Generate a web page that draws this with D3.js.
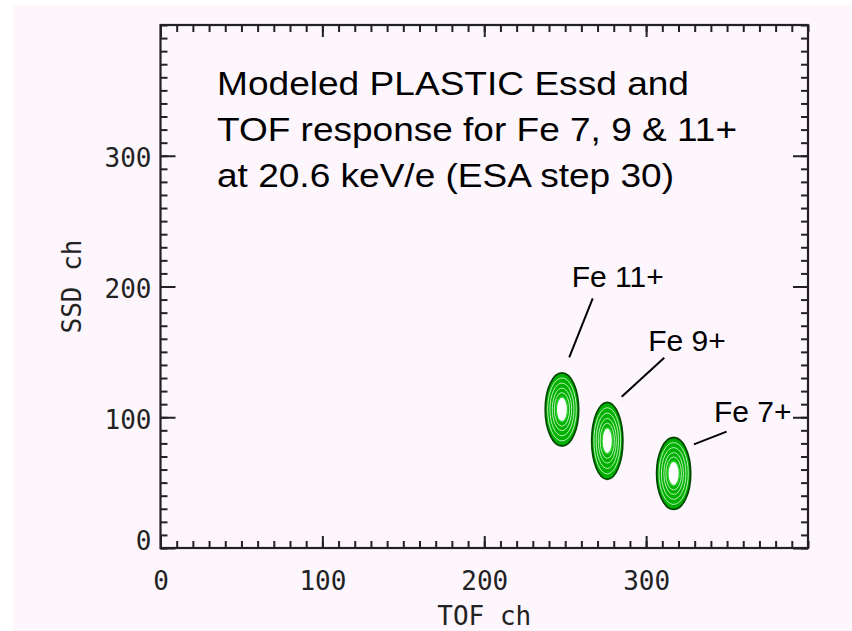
<!DOCTYPE html>
<html>
<head>
<meta charset="utf-8">
<script src="https://cdn.jsdelivr.net/npm/d3@7"></script>
<style>
  body { margin: 0; background: #fff; }
  .tick text { font-family: "DejaVu Sans Mono", monospace; font-size: 26px; fill: #222; }
</style>
</head>
<body>
<script>
// species shown in the plot
var species = ["Fe 11+", "Fe 9+", "Fe 7+"];
// peak centres (TOF ch, SSD ch) and half extents of the outer contour
var tofCenter = [248, 276, 317],
    ssdCenter = [106, 82, 57],
    tofHalf = [10.3, 9.6, 10.5],
    ssdHalf = [28, 29.4, 27.5];
// contour levels as fraction of outer contour size
var levels = [1, 0.86, 0.72, 0.58, 0.46, 0.34];
// label anchor and leader line ends (data units)
var labelTof = [254, 301.3, 341.9],
    labelSsd = [199.4, 150.9, 96.6],
    lineFrom = [[267, 191], [311.2, 145.5], [349.7, 89]],
    lineTo = [[252.5, 145.8], [284.9, 115.7], [329.5, 79.3]];
// axis ticks
var majorTicks = [0, 100, 200, 300],
    minorTicks = d3.range(0, 401, 10);
var titleLines = ["Modeled PLASTIC Essd and", "TOF response for Fe 7, 9 & 11+", "at 20.6 keV/e (ESA step 30)"];

var width = 852, height = 631;
var plotLeft = 160.5, plotRight = 808, plotTop = 25, plotBottom = 548;

var svg = d3.select("body").append("svg")
    .attr("width", width)
    .attr("height", height);

//pink page background
svg.append("rect")
    .attr("x", 13).attr("y", 5)
    .attr("width", width - 13).attr("height", height - 5)
    .attr("fill", "#fdf6fd");

var x = d3.scaleLinear().domain([0, 400]).range([plotLeft, plotRight]);
var y = d3.scaleLinear().domain([0, 400]).range([plotBottom, plotTop]);

//minor and major ticks, all four sides, pointing inward
function minor(axis, size){
    return axis.tickValues(minorTicks).tickSize(size).tickFormat("");
}
function major(axis, size){
    return axis.tickValues(majorTicks).tickSize(size);
}
var gx = svg.append("g").attr("transform", "translate(0," + plotBottom + ")");
gx.append("g").call(minor(d3.axisBottom(x), -7));
gx.append("g").attr("class", "lab").call(major(d3.axisBottom(x), -12));
var gxt = svg.append("g").attr("transform", "translate(0," + plotTop + ")");
gxt.append("g").call(minor(d3.axisTop(x), -7));
gxt.append("g").call(major(d3.axisTop(x), -12).tickFormat(""));

var gy = svg.append("g").attr("transform", "translate(" + plotLeft + ",0)");
gy.append("g").call(minor(d3.axisLeft(y), -7));
gy.append("g").attr("class", "lab").call(major(d3.axisLeft(y), -15));
var gyr = svg.append("g").attr("transform", "translate(" + plotRight + ",0)");
gyr.append("g").call(minor(d3.axisRight(y), -7));
gyr.append("g").call(major(d3.axisRight(y), -15).tickFormat(""));

svg.selectAll(".domain").remove();
svg.selectAll(".tick line").attr("stroke", "#222").attr("stroke-width", 2);
gx.selectAll(".lab .tick text").attr("y", 42).attr("dy", 0);
gy.selectAll(".lab .tick text")
    .attr("x", -9)
    .attr("dy", function(d){ return d === 0 ? "0.05em" : "0.42em"; });

//frame
svg.append("rect")
    .attr("x", plotLeft).attr("y", plotTop)
    .attr("width", plotRight - plotLeft).attr("height", plotBottom - plotTop)
    .attr("fill", "none")
    .attr("stroke", "#222")
    .attr("stroke-width", 2.2);

//axis titles
svg.append("text")
    .attr("x", (plotLeft + plotRight) / 2).attr("y", 625)
    .attr("text-anchor", "middle")
    .style("font-family", "DejaVu Sans Mono, monospace")
    .style("font-size", "26px").attr("fill", "#222")
    .text("TOF ch");
svg.append("text")
    .attr("transform", "translate(81," + (plotTop + plotBottom) / 2 + ") rotate(-90)")
    .attr("text-anchor", "middle")
    .style("font-family", "DejaVu Sans Mono, monospace")
    .style("font-size", "26px").attr("fill", "#222")
    .text("SSD ch");

//contour ellipses for each peak
var peaks = svg.selectAll(".peak")
    .data(species)
    .enter()
    .append("g")
    .attr("class", "peak");

var last = levels.length - 1;
peaks.selectAll("ellipse")
    .data(function(d, i){
        return levels.map(function(l, j){ return {i: i, l: l, j: j}; });
    })
    .enter()
    .append("ellipse")
    .attr("cx", function(d){ return x(tofCenter[d.i]); })
    .attr("cy", function(d){ return y(ssdCenter[d.i]); })
    .attr("rx", function(d){ return x(tofHalf[d.i] * d.l) - x(0); })
    .attr("ry", function(d){ return y(0) - y(ssdHalf[d.i] * d.l); })
    .attr("fill", function(d){
        if (d.j === 0) return "#00b000";
        if (d.j === last) return "#fff";
        return "none";
    })
    .attr("stroke", function(d){
        if (d.j === 0) return "#004a00";
        if (d.j === last) return "#30d030";
        return "#c8f5c8";
    })
    .attr("stroke-width", function(d){
        if (d.j === 0) return 1.8;
        return d.j === last ? 1.5 : 0.9;
    });

//labels and leader lines
svg.selectAll(".leader")
    .data(species)
    .enter()
    .append("line")
    .attr("class", "leader")
    .attr("x1", function(d, i){ return x(lineFrom[i][0]); })
    .attr("y1", function(d, i){ return y(lineFrom[i][1]); })
    .attr("x2", function(d, i){ return x(lineTo[i][0]); })
    .attr("y2", function(d, i){ return y(lineTo[i][1]); })
    .attr("stroke", "#000")
    .attr("stroke-width", 2);

svg.selectAll(".flabel")
    .data(species)
    .enter()
    .append("text")
    .attr("class", "flabel")
    .attr("x", function(d, i){ return x(labelTof[i]); })
    .attr("y", function(d, i){ return y(labelSsd[i]); })
    .style("font-family", "Liberation Sans, Arial, sans-serif")
    .style("font-size", "30px")
    .text(function(d){ return d; });

//title block
var titleLen = [472, 520, 457];
svg.selectAll(".title")
    .data(titleLines)
    .enter()
    .append("text")
    .attr("class", "title")
    .attr("x", 217)
    .attr("y", function(d, i){ return 95 + i * 45.8; })
    .attr("textLength", function(d, i){ return titleLen[i]; })
    .attr("lengthAdjust", "spacingAndGlyphs")
    .style("font-family", "Liberation Sans, Arial, sans-serif")
    .style("font-size", "33px")
    .text(function(d){ return d; });
</script>
</body>
</html>
